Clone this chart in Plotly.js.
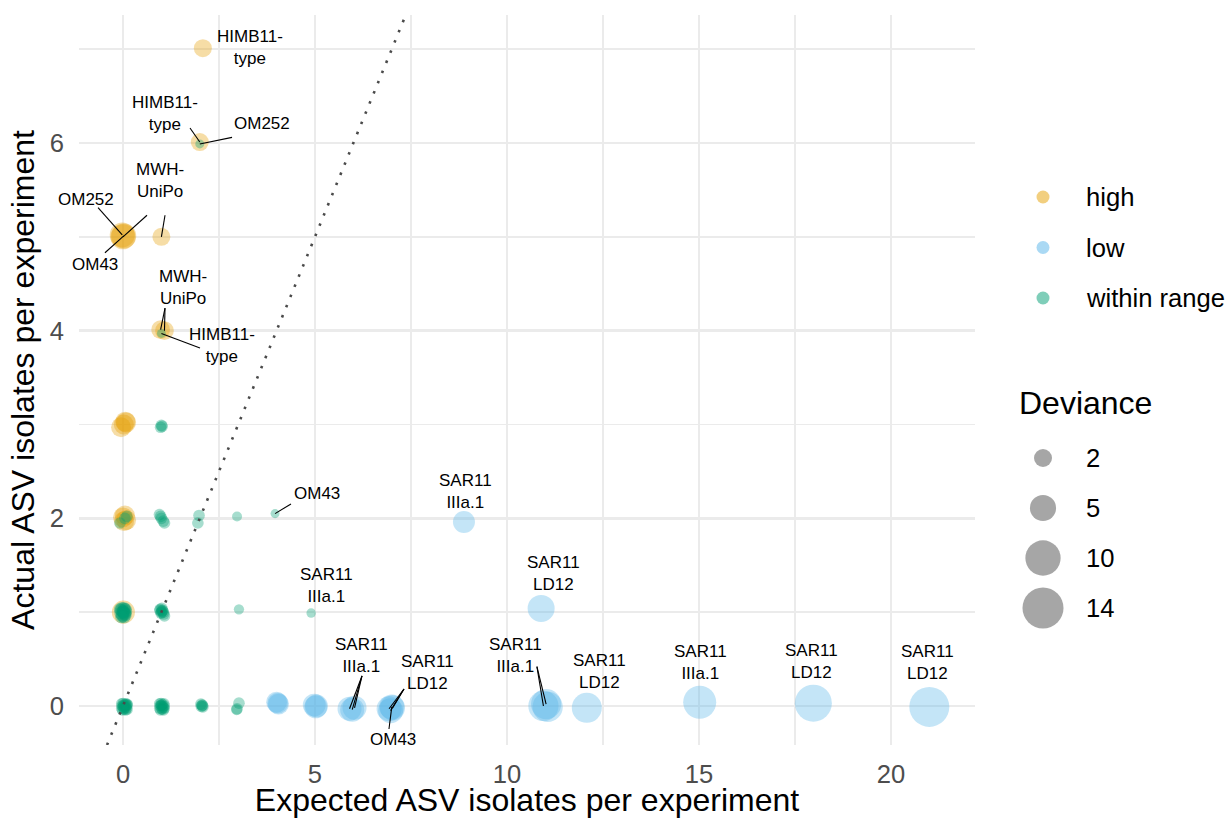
<!DOCTYPE html>
<html>
<head>
<meta charset="utf-8">
<script src="https://cdn.plot.ly/plotly-3.0.1.min.js"></script>
<style>
  html, body { margin: 0; padding: 0; background: #ffffff; }
  #chart { width: 1226px; height: 818px; }
</style>
</head>
<body>
<div id="chart"></div>
<script>
// ---- Observed vs expected ASV isolates, coloured by deviation class ----
const categories = ['high', 'low', 'within range'];
const categoryColors = ['rgba(230,159,0,0.5)', 'rgba(86,180,233,0.5)', 'rgba(0,158,115,0.5)'];

// "high": more isolates than expected
const highX   = [2.08, 2.00, -0.02, 0.00, 0.02, 1.00, 0.98, 1.08, -0.05, 0.02, 0.06, 0.08, 0.00, 0.05, 0.08, 0.03, 0.01];
const highY   = [7.01, 6.01, 5.02, 5.00, 5.01, 5.00, 4.01, 4.00, 2.97, 3.00, 3.03, 3.02, 2.01, 2.03, 1.98, 1.97, 1.00];
const highDev = [2.0, 2.0, 4.5, 4.5, 4.5, 2.0, 2.2, 2.2, 2.6, 2.6, 2.6, 2.6, 2.6, 2.6, 2.6, 2.6, 3.7];

// "low": fewer isolates than expected
const lowX   = [4.00, 4.03, 4.05, 4.98, 5.02, 5.04, 5.90, 5.97, 6.03, 6.93, 6.97, 7.02, 7.00,
                10.95, 11.02, 11.06, 12.08, 15.02, 17.98, 21.00, 8.88, 10.89];
const lowY   = [0.04, 0.03, 0.02, 0.01, -0.01, 0.00, -0.03, -0.04, -0.02, -0.03, -0.05, -0.02, -0.01,
                0.00, 0.02, -0.01, -0.02, 0.04, 0.03, -0.01, 1.96, 1.04];
const lowDev = [2.9, 2.9, 2.9, 3.6, 3.6, 3.6, 4.1, 4.1, 4.1, 4.5, 4.5, 4.5, 4.5,
                7.0, 7.0, 7.0, 6.9, 8.6, 11.1, 13.2, 3.3, 5.4];

// "within range"
const withinX = [2.00, 1.00,
                 0.98, 1.02, 1.00,
                 0.10, -0.08, 0.05, 0.95, 1.00, 1.05, 1.08, 0.98, 1.98, 1.95, 2.97, 3.96,
                 -0.05, 0.00, 0.05, 0.02, -0.02, 0.06, 0.00, 0.97, 1.02, 1.06, 1.08, 1.00, 3.02, 4.90,
                 -0.07, -0.03, 0.04, 0.07, -0.06, -0.01, 0.03, 0.06, -0.04, 0.01, 0.05,
                 0.96, 1.01, 1.05, 0.99, 1.03,
                 -0.04, 0.00, 0.04, 0.08, 0.11, -0.03, 0.01, 0.05, 0.09, 0.12, -0.04, 0.02, 0.06, 0.10,
                 -0.02, 0.03, 0.07, 0.11, 0.00, 0.08,
                 0.95, 0.99, 1.03, 1.07, 0.96, 1.00, 1.04, 1.08, 0.95, 1.01, 1.05, 1.08, 0.97, 1.02, 1.06, 0.99,
                 2.03, 2.06, 2.08, 2.04, 2.07,
                 3.02, 2.97, 2.96];
const withinY = [5.99, 3.97,
                 2.97, 2.98, 2.99,
                 2.02, 1.95, 2.00, 2.04, 2.00, 1.97, 1.95, 2.02, 2.03, 1.95, 2.02, 2.05,
                 1.02, 1.00, 0.98, 1.04, 0.97, 1.03, 1.01, 1.03, 1.01, 0.98, 0.96, 1.00, 1.03, 0.99,
                 1.03, 1.04, 1.03, 1.01, 0.99, 0.96, 0.95, 0.97, 0.95, 1.00, 0.99,
                 1.02, 1.04, 1.00, 0.99, 1.02,
                 0.025, 0.03, 0.02, 0.025, 0.02, 0.00, 0.005, -0.005, 0.00, 0.01, -0.025, -0.03, -0.02, -0.025,
                 -0.045, -0.04, -0.045, -0.04, -0.01, 0.015,
                 0.025, 0.03, 0.02, 0.025, 0.00, 0.005, -0.005, 0.00, -0.025, -0.03, -0.02, -0.025, -0.045, -0.04, -0.045, 0.01,
                 0.02, 0.01, -0.01, -0.005, 0.005,
                 0.03, -0.03, -0.04];
const withinDev = [0.25, 0.25,
                   0.6, 0.6, 0.6,
                   0.6, 0.6, 0.6, 0.6, 0.6, 0.6, 0.6, 0.6, 0.6, 0.6, 0.37, 0.26,
                   0.8, 0.8, 0.8, 0.8, 0.8, 0.8, 0.8, 0.6, 0.6, 0.6, 0.6, 0.6, 0.4, 0.3,
                   0.8, 0.8, 0.8, 0.8, 0.8, 0.8, 0.8, 0.8, 0.8, 0.8, 0.8,
                   0.6, 0.6, 0.6, 0.6, 0.6,
                   0.5, 0.5, 0.5, 0.5, 0.5, 0.5, 0.5, 0.5, 0.5, 0.5, 0.5, 0.5, 0.5, 0.5,
                   0.5, 0.5, 0.5, 0.5, 0.5, 0.5,
                   0.5, 0.5, 0.5, 0.5, 0.5, 0.5, 0.5, 0.5, 0.5, 0.5, 0.5, 0.5, 0.5, 0.5, 0.5, 0.5,
                   0.6, 0.6, 0.6, 0.6, 0.6,
                   0.6, 0.6, 0.5];

// Clade labels and where their text sits (axis units)
const labelText = ['HIMB11-<br>type', 'HIMB11-<br>type', 'OM252', 'OM252', 'MWH-<br>UniPo', 'OM43',
                   'MWH-<br>UniPo', 'HIMB11-<br>type', 'OM43', 'SAR11<br>IIIa.1', 'SAR11<br>IIIa.1',
                   'SAR11<br>LD12', 'SAR11<br>IIIa.1', 'SAR11<br>LD12', 'OM43',
                   'SAR11<br>IIIa.1', 'SAR11<br>LD12', 'SAR11<br>IIIa.1', 'SAR11<br>LD12', 'SAR11<br>LD12'];
const labelPlace = [[3.31, 7.02], [1.09, 6.31], [3.62, 6.21], [-0.96, 5.40], [0.96, 5.60], [-0.73, 4.70],
                    [1.56, 4.46], [2.58, 3.84], [5.05, 2.26], [5.29, 1.28], [8.91, 2.29],
                    [11.22, 1.41], [6.20, 0.54], [7.94, 0.36], [7.03, -0.36],
                    [10.23, 0.54], [12.42, 0.37], [15.03, 0.46], [17.94, 0.47], [20.94, 0.46]];

// Leader segments: the labelled point (category, index) and where the segment meets its label
const segPoint = [['high', 1], ['within range', 0], ['high', 2], ['high', 3], ['high', 5], ['high', 4],
                  ['high', 6], ['high', 7], ['within range', 1], ['within range', 16],
                  ['low', 6], ['low', 7], ['low', 8], ['low', 9], ['low', 10], ['low', 11], ['low', 12],
                  ['low', 13], ['low', 14]];
const segEnd = [[1.745, 6.16], [2.84, 6.06], [-0.65, 5.31], [0.625, 5.23], [1.094, 5.23], [-0.47, 4.83],
                [1.094, 4.24], [1.094, 4.24], [2.005, 3.815], [4.375, 2.153],
                [6.224, 0.32], [6.224, 0.32], [6.224, 0.32], [7.318, 0.181], [7.318, 0.181], [7.318, 0.181], [6.927, -0.245],
                [10.78, 0.42], [10.78, 0.42]];

// Size legend breaks
const devianceBreaks = [2, 5, 10, 14];

// ---- geometry ----
const W = 1226, H = 818;
const M = { l: 79, r: 0, t: 15, b: 73 };
const plotW = W - M.l - M.r;
const panelRight = 975;            // right edge of the data panel, px
const legendLeft = 990;            // left edge of the legend column, px
const xRange = [-1.146, 22.19];
const yRange = [-0.416, 7.364];

const FONT = 'Liberation Sans, Arial, Helvetica, sans-serif';
const sizeOf = v => 4 + 9.9 * Math.sqrt(v);

const series = {
  'high': { x: highX, y: highY, dev: highDev },
  'low': { x: lowX, y: lowY, dev: lowDev },
  'within range': { x: withinX, y: withinY, dev: withinDev }
};

function pointTrace(name, color) {
  const s = series[name];
  return {
    type: 'scatter', mode: 'markers', name: name,
    x: s.x, y: s.y, xaxis: 'x', yaxis: 'y',
    marker: { size: s.dev.map(sizeOf), color: color, line: { width: 0 } },
    showlegend: false, hoverinfo: 'skip', cliponaxis: false
  };
}

const traces = categories.map((c, i) => pointTrace(c, categoryColors[i]));
// 1:1 reference line
traces.push({
  type: 'scatter', mode: 'lines', x: [yRange[0], yRange[1]], y: [yRange[0], yRange[1]],
  xaxis: 'x', yaxis: 'y',
  line: { color: '#4a4a4a', width: 2.6, dash: '2.5px,8.5px' },
  showlegend: false, hoverinfo: 'skip'
});

// ---- legend column (drawn on a hidden pixel-scaled axis pair) ----
const colorKeyX = 1043, legendTextX = 1084;
const colorKeyY = categories.map((c, i) => 197 + i * 50.5);
const sizeKeyY = devianceBreaks.map((b, i) => 458 + i * 50);

traces.push({
  type: 'scatter', mode: 'markers', xaxis: 'x2', yaxis: 'y2',
  x: categories.map(() => colorKeyX), y: colorKeyY,
  marker: { size: 13, color: categoryColors, line: { width: 0 } },
  showlegend: false, hoverinfo: 'skip', cliponaxis: false
});
traces.push({
  type: 'scatter', mode: 'markers', xaxis: 'x2', yaxis: 'y2',
  x: devianceBreaks.map(() => colorKeyX), y: sizeKeyY,
  marker: { size: devianceBreaks.map(sizeOf), color: 'rgba(0,0,0,0.5)', line: { width: 0 } },
  showlegend: false, hoverinfo: 'skip', cliponaxis: false
});

const shapes = segPoint.map((p, i) => {
  const s = series[p[0]];
  return {
    type: 'line', xref: 'x', yref: 'y', layer: 'above',
    x0: s.x[p[1]], y0: s.y[p[1]], x1: segEnd[i][0], y1: segEnd[i][1],
    line: { color: '#000000', width: 1.1 }
  };
});

const annotations = labelText.map((t, i) => ({
  xref: 'x', yref: 'y', x: labelPlace[i][0], y: labelPlace[i][1],
  text: t, showarrow: false, xanchor: 'center', yanchor: 'middle', align: 'center',
  font: { family: FONT, size: 17, color: '#000000' }
}));
categories.forEach((c, i) => {
  annotations.push({
    xref: 'x2', yref: 'y2', x: legendTextX, y: colorKeyY[i], text: c,
    showarrow: false, xanchor: 'left', yanchor: 'middle',
    font: { family: FONT, size: 25.6, color: '#000000' }
  });
});
annotations.push({
  xref: 'x2', yref: 'y2', x: 1017, y: 403, text: 'Deviance',
  showarrow: false, xanchor: 'left', yanchor: 'middle',
  font: { family: FONT, size: 32, color: '#000000' }
});
devianceBreaks.forEach((b, i) => {
  annotations.push({
    xref: 'x2', yref: 'y2', x: legendTextX, y: sizeKeyY[i], text: String(b),
    showarrow: false, xanchor: 'left', yanchor: 'middle',
    font: { family: FONT, size: 25.6, color: '#000000' }
  });
});

const gridColor = '#EBEBEB';
const layout = {
  width: W, height: H,
  margin: M,
  paper_bgcolor: '#ffffff', plot_bgcolor: '#ffffff',
  font: { family: FONT, color: '#000000' },
  showlegend: false,
  xaxis: {
    domain: [0, (panelRight - M.l) / plotW], anchor: 'y',
    range: xRange, tickvals: [0, 5, 10, 15, 20], ticktext: ['0', '5', '10', '15', '20'],
    showgrid: true, gridcolor: gridColor, gridwidth: 2.4,
    minor: { tickvals: [2.5, 7.5, 12.5, 17.5], showgrid: true, gridcolor: gridColor, gridwidth: 1.5 },
    zeroline: false, showline: false,
    ticks: 'outside', ticklen: 6, tickcolor: 'rgba(0,0,0,0)',
    tickfont: { family: FONT, size: 25.6, color: '#4D4D4D' },
    title: { text: 'Expected ASV isolates per experiment', font: { family: FONT, size: 32, color: '#000000' }, standoff: 10 }
  },
  yaxis: {
    domain: [0, 1], anchor: 'x',
    range: yRange, tickvals: [0, 2, 4, 6], ticktext: ['0', '2', '4', '6'],
    showgrid: true, gridcolor: gridColor, gridwidth: 2.4,
    minor: { tickvals: [1, 3, 5, 7], showgrid: true, gridcolor: gridColor, gridwidth: 1.5 },
    zeroline: false, showline: false,
    ticks: 'outside', ticklen: 9, tickcolor: 'rgba(0,0,0,0)',
    tickfont: { family: FONT, size: 25.6, color: '#4D4D4D' },
    title: { text: 'Actual ASV isolates per experiment', font: { family: FONT, size: 32, color: '#000000' }, standoff: 5 }
  },
  xaxis2: {
    domain: [(legendLeft - M.l) / plotW, 1], anchor: 'y2',
    range: [legendLeft, W - M.r], visible: false, fixedrange: true
  },
  yaxis2: {
    domain: [0, 1], anchor: 'x2',
    range: [H - M.b, M.t], visible: false, fixedrange: true
  },
  shapes: shapes,
  annotations: annotations
};

Plotly.newPlot('chart', traces, layout, { displayModeBar: false, staticPlot: true });
</script>
</body>
</html>
